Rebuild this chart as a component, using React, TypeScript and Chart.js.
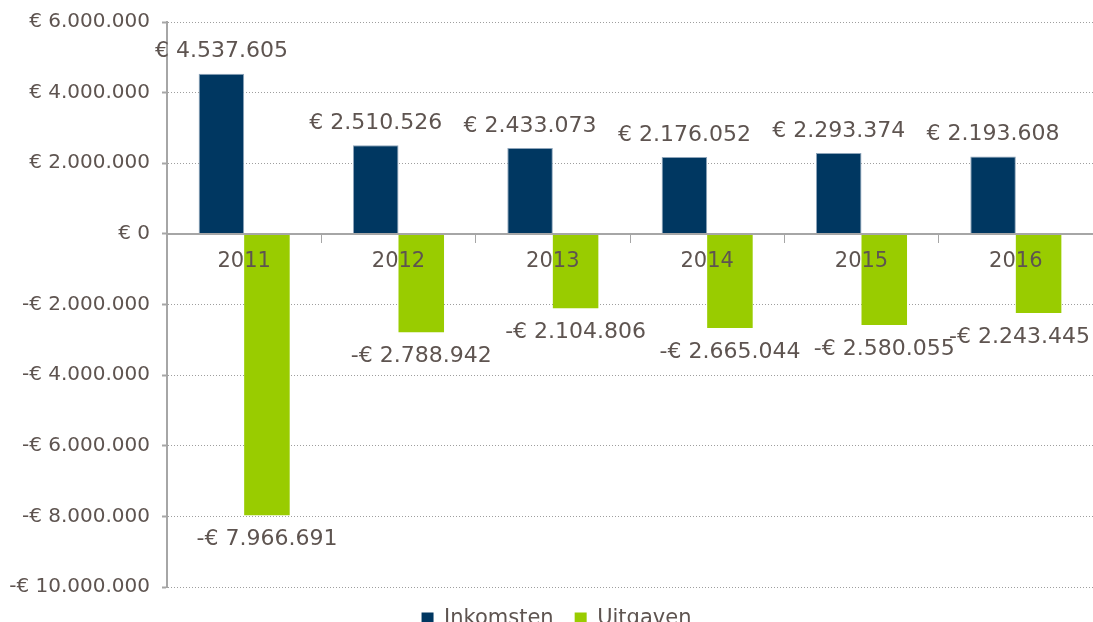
import React, { useEffect, useRef } from 'react';
import { Chart, registerables } from 'chart.js';

Chart.register(...registerables);

const years = ['2011', '2012', '2013', '2014', '2015', '2016'];
const inkomsten = [4537605, 2510526, 2433073, 2176052, 2293374, 2193608];
const uitgaven = [-7966691, -2788942, -2104806, -2665044, -2580055, -2243445];
const seriesNames = ['Inkomsten', 'Uitgaven'];
const yMin = -10000000;
const yMax = 6000000;
const yStep = 2000000;

const TEXT = '#5E5450';
const AXIS = '#A6A6A6';
const FONT = "'DejaVu Sans', Verdana, sans-serif";

function fmt(v: number): string {
  const s = Math.abs(Math.round(v)).toString().replace(/\B(?=(\d{3})+(?!\d))/g, '.');
  return (v < 0 ? '-' : '') + '€ ' + s;
}

const valueLabels = {
  id: 'valueLabels',
  afterLayout(chart: any) {
    // centre the legend a little to the right, like the original
    if (chart.legend) {
      chart.legend.left = 20;
    }
  },
  afterDatasetsDraw(chart: any) {
    const ctx = chart.ctx;
    ctx.save();
    ctx.font = `22px ${FONT}`;
    ctx.fillStyle = TEXT;
    ctx.textAlign = 'center';
    ctx.textBaseline = 'middle';
    chart.data.datasets.forEach((ds: any, i: number) => {
      const meta = chart.getDatasetMeta(i);
      meta.data.forEach((el: any, j: number) => {
        const v = ds.data[j] as number;
        const text = fmt(v);
        const w = ctx.measureText(text).width;
        let x = el.x;
        const maxX = chart.width - 3 - w / 2;
        if (x > maxX) x = maxX;
        const y = v >= 0 ? el.y - 22 : el.y + 24;
        ctx.fillText(text, x, y);
      });
    });
    ctx.restore();
  },
};

export default function App() {
  const ref = useRef<HTMLCanvasElement | null>(null);

  useEffect(() => {
    if (!ref.current) return;
    const chart = new Chart(ref.current, {
      type: 'bar',
      data: {
        labels: years,
        datasets: [
          {
            label: seriesNames[0],
            data: inkomsten,
            backgroundColor: '#003761',
            borderColor: '#8EA5BA',
            borderWidth: 1,
            categoryPercentage: 0.59,
            barPercentage: 1.0,
          },
          {
            label: seriesNames[1],
            data: uitgaven,
            backgroundColor: '#99CC00',
            borderWidth: 0,
            categoryPercentage: 0.59,
            barPercentage: 1.0,
          },
        ],
      },
      options: {
        responsive: false,
        animation: false,
        layout: { padding: { top: 22, left: 0, right: 0, bottom: 0 } },
        plugins: {
          tooltip: { enabled: false },
          legend: {
            position: 'bottom',
            labels: {
              color: TEXT,
              font: { family: FONT, size: 21 },
              boxWidth: 12,
              boxHeight: 12,
              padding: 21,
              generateLabels: (chart: any) =>
                chart.data.datasets.map((ds: any, i: number) => ({
                  text: ds.label,
                  fillStyle: ds.backgroundColor,
                  strokeStyle: ds.backgroundColor,
                  lineWidth: 0,
                  fontColor: TEXT,
                  hidden: false,
                  datasetIndex: i,
                })),
            },
          },
        },
        scales: {
          x: {
            position: { y: 0 } as any,
            offset: true,
            grid: {
              display: true,
              drawOnChartArea: false,
              drawTicks: true,
              tickLength: 8,
              color: AXIS,
              tickColor: AXIS,
              offset: true,
              z: 1,
            },
            border: { display: true, color: AXIS, width: 2, z: 1 },
            ticks: {
              color: TEXT,
              font: { family: FONT, size: 21 },
              padding: 7,
              maxRotation: 0,
              z: 1,
            },
          },
          y: {
            min: yMin,
            max: yMax,
            ticks: {
              stepSize: yStep,
              color: TEXT,
              font: { family: FONT, size: 20 },
              padding: 12,
              callback: (v: any) => fmt(Number(v)),
            },
            grid: {
              color: '#9E9E9E',
              lineWidth: 1,
              drawTicks: true,
              tickLength: 5,
              tickColor: AXIS,
              tickWidth: 2,
              tickBorderDash: [],
              borderDash: [1, 2],
            } as any,
            border: { display: true, color: AXIS, width: 2, dash: [1, 2] },
            afterFit: (s: any) => {
              s.width = 167;
              s.paddingTop = 0;
              s.paddingBottom = 0;
            },
          },
        },
      },
      plugins: [valueLabels],
    } as any);
    return () => chart.destroy();
  }, []);

  return (
    <div style={{ position: 'absolute', left: 0, top: 0, width: 1093, height: 622, overflow: 'hidden', background: '#fff' }}>
      <canvas ref={ref} width={1093} height={639} style={{ display: 'block' }} />
    </div>
  );
}
